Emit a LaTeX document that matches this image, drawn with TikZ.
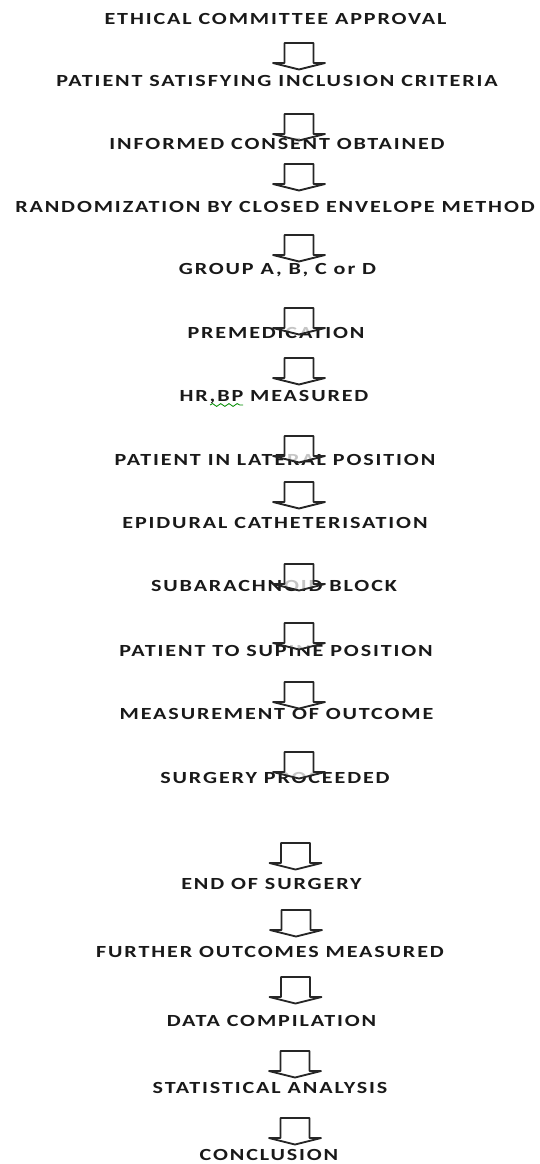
\documentclass[tikz,border=0pt]{standalone}
\usepackage{fontspec}
\newfontfamily\stepfont{Carlito}[FakeStretch=1.3,LetterSpace=11]
\usetikzlibrary{decorations.pathmorphing}

\tikzset{
  steptext/.style={font=\stepfont\bfseries\fontsize{14.5}{17}\selectfont, text=black!90, inner sep=0pt},
  blockarrow/.pic={
    \draw[line width=0.55mm, draw=black!85, fill=white, fill opacity=0.75, line join=round]
      (-14.5,0) -- (14.5,0) -- (14.5,20) -- (26,20) -- (0,26.5) -- (-26,20) -- (-14.5,20) -- cycle;
  }
}

\begin{document}
\begin{tikzpicture}[x=0.3mm,y=-0.3mm]
        \useasboundingbox (0,0) rectangle (539,1164);

        % the steps
        \node[steptext] (eth) at (275.5,18.5) {ETHICAL COMMITTEE APPROVAL};
        \node[steptext] (incl) at (277,81) {PATIENT SATISFYING INCLUSION CRITERIA};
        \node[steptext] (cons) at (277,144) {INFORMED CONSENT OBTAINED};
        \node[steptext] (rand) at (275,207) {RANDOMIZATION BY CLOSED ENVELOPE METHOD};
        \node[steptext] (grp) at (277.5,270) {GROUP A, B, C or D};
        \node[steptext] (premed) at (276,333) {PREMEDICATION};
        \node[steptext] (hrbp) at (274,397) {HR,BP MEASURED};
        \node[steptext] (lat) at (275,460) {PATIENT IN LATERAL POSITION};
        \node[steptext] (epi) at (275,523) {EPIDURAL CATHETERISATION};
        \node[steptext] (sab) at (274,586) {SUBARACHNOID BLOCK};
        \node[steptext] (sup) at (276,651) {PATIENT TO SUPINE POSITION};
        \node[steptext] (meas) at (276.5,714) {MEASUREMENT OF OUTCOME};
        \node[steptext] (surg) at (275,777.5) {SURGERY PROCEEDED};
        \node[steptext] (endsurg) at (271.5,884) {END OF SURGERY};
        \node[steptext] (furth) at (270,952) {FURTHER OUTCOMES MEASURED};
        \node[steptext] (data) at (271.5,1020.5) {DATA COMPILATION};
        \node[steptext] (stat) at (270,1088) {STATISTICAL ANALYSIS};
        \node[steptext] (concl) at (269,1155) {CONCLUSION};

        % spell check mark under BP
        \draw[green!55!black, line width=0.25mm, decorate, decoration={snake, amplitude=1.2pt, segment length=7pt}]
          (210,405) -- (243,405);

        % the block arrows
        \pic (a1) at (299,43) {blockarrow};
        \pic (a2) at (299,114) {blockarrow};
        \pic (a3) at (299,164) {blockarrow};
        \pic (a4) at (299,235) {blockarrow};
        \pic (a5) at (299,308) {blockarrow};
        \pic (a6) at (299,358) {blockarrow};
        \pic (a7) at (299,436) {blockarrow};
        \pic (a8) at (299,482) {blockarrow};
        \pic (a9) at (299,564) {blockarrow};
        \pic (a10) at (299,623) {blockarrow};
        \pic (a11) at (299,682) {blockarrow};
        \pic (a12) at (299,752) {blockarrow};
        \pic (a13) at (295.5,843) {blockarrow};
        \pic (a14) at (296,910) {blockarrow};
        \pic (a15) at (295.5,977) {blockarrow};
        \pic (a16) at (295,1051) {blockarrow};
        \pic (a17) at (295,1118) {blockarrow};
\end{tikzpicture}
\end{document}
